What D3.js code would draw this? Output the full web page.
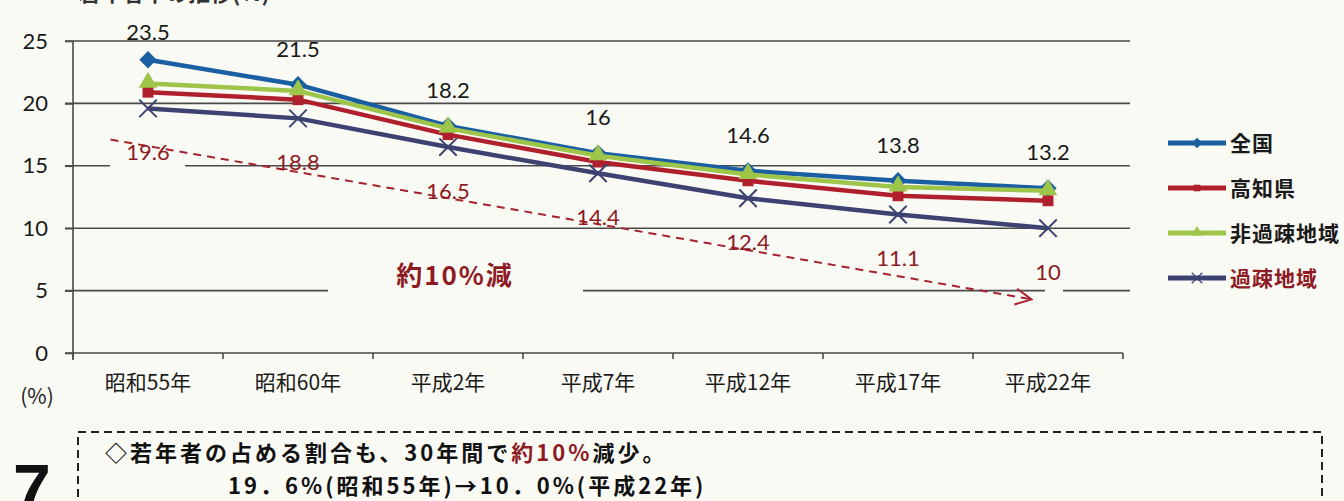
<!DOCTYPE html>
<html>
<head>
<meta charset="utf-8">
<script src="https://cdn.jsdelivr.net/npm/d3@7"></script>
<style>
body { margin: 0; background: #fafaf5; }
svg { display: block; }
</style>
</head>
<body>
<div id="chart"></div>
<script>

var categories = ["昭和55年", "昭和60年", "平成2年", "平成7年", "平成12年", "平成17年", "平成22年"];
var zenkoku = [23.5, 21.5, 18.2, 16, 14.6, 13.8, 13.2];
var kochi = [20.9, 20.3, 17.5, 15.3, 13.8, 12.6, 12.2];
var hikaso = [21.6, 21.0, 18.0, 15.8, 14.3, 13.3, 13.0];
var kaso = [19.6, 18.8, 16.5, 14.4, 12.4, 11.1, 10];
var seriesNames = ["全国", "高知県", "非過疎地域", "過疎地域"];
var yTicks = [0, 5, 10, 15, 20, 25];

var W = 1344, H = 501;
var bg = "#fafaf5";
var darkRed = "#8e1b24";
var jp = "'Noto Sans CJK JP', sans-serif";
var num = "Lato, 'Noto Sans CJK JP', sans-serif";

var series = [
  {name: seriesNames[0], values: zenkoku, color: "#1b5fa3", shape: "diamond"},
  {name: seriesNames[1], values: kochi, color: "#b0202c", shape: "square"},
  {name: seriesNames[2], values: hikaso, color: "#9dc54a", shape: "triangle"},
  {name: seriesNames[3], values: kaso, color: "#3d4270", shape: "x"}
]

var svg = d3.select("#chart").append("svg")
.attr("width", W)
.attr("height", H)

svg.append("rect").attr("width", W).attr("height", H).attr("fill", bg)

var x = d3.scaleBand().domain(categories).range([73, 1123])
var y = d3.scaleLinear().domain([0, 25]).range([353, 41])
var cx = function(i){ return x(categories[i]) + x.bandwidth() / 2 }

// cut off heading at the top
svg.append("text")
.attr("x", 78).attr("y", 1)
.style("font-family", jp).style("font-size", "22px").style("font-weight", "bold")
.attr("fill", "#333")
.text("若年者率の推移(%)")

// gridlines
svg.append("g").selectAll("line")
.data(yTicks.slice(1))
.enter().append("line")
.attr("x1", 65).attr("x2", 1130)
.attr("y1", function(d){ return y(d) }).attr("y2", function(d){ return y(d) })
.attr("stroke", "#4a4a4a").attr("stroke-width", 1.6)

// gaps behind annotations
var gaps = [[110, 185, 15], [328, 583, 5], [1045, 1063, 5]]
svg.append("g").selectAll("rect")
.data(gaps).enter().append("rect")
.attr("x", function(d){ return d[0] }).attr("width", function(d){ return d[1] - d[0] })
.attr("y", function(d){ return y(d[2]) - 3 }).attr("height", 6)
.attr("fill", bg)

// y axis
var yAxis = d3.axisLeft(y).tickValues(yTicks).tickSize(8).tickPadding(17)
var gy = svg.append("g").attr("transform", "translate(73,0)").call(yAxis)
gy.select(".domain").attr("d", "M0," + y(25) + "V360").attr("stroke", "#4a4a4a").attr("stroke-width", 1.6)
gy.selectAll(".tick line").attr("stroke", "#4a4a4a").attr("stroke-width", 1.6)
gy.selectAll("text").style("font-family", num).style("font-size", "22px").attr("fill", "#1a1a1a")

// x axis
var xAxis = d3.axisBottom(x).tickSize(0).tickPadding(22)
var gx = svg.append("g").attr("transform", "translate(0," + y(0) + ")").call(xAxis)
gx.select(".domain").attr("d", "M65,0H1123").attr("stroke", "#4a4a4a").attr("stroke-width", 1.6)
gx.selectAll("text").style("font-family", jp).style("font-size", "21px").attr("fill", "#1a1a1a")
gx.selectAll(".edge").data(d3.range(categories.length + 1)).enter().append("line")
.attr("class", "edge")
.attr("x1", function(d){ return 73 + d * x.bandwidth() }).attr("x2", function(d){ return 73 + d * x.bandwidth() })
.attr("y1", 0).attr("y2", 6)
.attr("stroke", "#4a4a4a").attr("stroke-width", 1.6)

svg.append("text").attr("x", 37).attr("y", 404).attr("text-anchor", "middle")
.style("font-family", jp).style("font-size", "21px").attr("fill", "#1a1a1a")
.text("(%)")

// annotation arrow (data coordinates: band index, value)
var arrowFrom = [-0.25, 17.1], arrowTo = [5.89, 4.3]
var ax = function(p){ return cx(0) + p * x.bandwidth() }
svg.append("defs").append("marker")
.attr("id", "head").attr("viewBox", "0 0 20 20").attr("refX", 18).attr("refY", 10)
.attr("markerWidth", 20).attr("markerHeight", 20).attr("markerUnits", "userSpaceOnUse")
.attr("orient", "auto")
.append("path").attr("d", "M2,2L18,10L2,18").attr("fill", "none")
.attr("stroke", "#a6222e").attr("stroke-width", 2)

svg.append("line")
.attr("x1", ax(arrowFrom[0])).attr("y1", y(arrowFrom[1]))
.attr("x2", ax(arrowTo[0])).attr("y2", y(arrowTo[1]))
.attr("stroke", "#a6222e").attr("stroke-width", 2).attr("stroke-dasharray", "8,6")
.attr("marker-end", "url(#head)")

svg.append("text").attr("x", 455).attr("y", 285).attr("text-anchor", "middle")
.style("font-family", jp).style("font-size", "26px").style("font-weight", "bold")
.style("letter-spacing", "2px")
.attr("fill", darkRed).text("約10%減")

// lines and markers
var line = d3.line().x(function(d, i){ return cx(i) }).y(function(d){ return y(d) })

function marker(g, shape, color){
  if(shape == "diamond"){
    g.append("path").attr("d", d3.symbol(d3.symbolSquare, 150)()).attr("transform", "rotate(45)").attr("fill", color)
  } else if(shape == "square"){
    g.append("path").attr("d", d3.symbol(d3.symbolSquare, 120)()).attr("fill", color)
  } else if(shape == "triangle"){
    g.append("path").attr("d", d3.symbol(d3.symbolTriangle, 150)()).attr("transform", "translate(0,-1)").attr("fill", color)
  } else {
    g.append("path").attr("d", d3.symbol(d3.symbolX, 200)()).attr("fill", "none").attr("stroke", color).attr("stroke-width", 2)
  }
}

series.forEach(function(s){
  var g = svg.append("g")
  g.append("path").datum(s.values).attr("d", line)
  .attr("fill", "none").attr("stroke", s.color).attr("stroke-width", 4.5).attr("stroke-linejoin", "round")
  s.values.forEach(function(v, i){
    var m = g.append("g").attr("transform", "translate(" + cx(i) + "," + y(v) + ")")
    marker(m, s.shape, s.color)
  })
})

// data labels
svg.append("g").selectAll("text").data(zenkoku).enter().append("text")
.attr("x", function(d, i){ return cx(i) })
.attr("y", function(d){ return Math.max(y(d) - 28, 40) })
.attr("text-anchor", "middle")
.style("font-family", num).style("font-size", "22px").attr("fill", "#1a1a1a")
.text(function(d){ return d })

svg.append("g").selectAll("text").data(kaso).enter().append("text")
.attr("x", function(d, i){ return cx(i) })
.attr("y", function(d){ return y(d) + 52 })
.attr("text-anchor", "middle")
.style("font-family", num).style("font-size", "22px").attr("fill", darkRed)
.text(function(d){ return d })

// legend
var leg = svg.append("g").selectAll("g").data(series).enter().append("g")
.attr("transform", function(d, i){ return "translate(1168," + (143 + i * 45) + ")" })
leg.append("line").attr("x1", 0).attr("x2", 58)
.attr("stroke", function(d){ return d.color }).attr("stroke-width", 5)
leg.each(function(d){
  var m = d3.select(this).append("g").attr("transform", "translate(29,0) scale(0.6)")
  marker(m, d.shape, d.color)
})
leg.append("text").attr("x", 62).attr("y", 8)
.style("font-family", jp).style("font-size", "21px").style("font-weight", "bold")
.style("letter-spacing", "1px")
.attr("fill", function(d, i){ return i == 3 ? darkRed : "#1a1a1a" })
.text(function(d){ return d.name })

// bottom note box
svg.append("path").attr("d", "M78,510V432H1322V510")
.attr("fill", "none").attr("stroke", "#222").attr("stroke-width", 2).attr("stroke-dasharray", "8,5")

svg.append("text").attr("x", 13).attr("y", 512)
.style("font-family", "'Liberation Sans', sans-serif").style("font-size", "68px").style("font-weight", "bold")
.attr("fill", "#111").text("7")

// first note line, in three pieces placed one after another
var noteParts = [["◇若年者の占める割合も、30年間で", "#111"], ["約10%", darkRed], ["減少。", "#111"]]
var nx = 105
noteParts.forEach(function(p){
  var t = svg.append("text").attr("x", nx).attr("y", 461)
  .style("font-family", jp).style("font-size", "22px").style("font-weight", "bold")
  .style("letter-spacing", "3px").attr("fill", p[1])
  .text(p[0])
  nx += t.node().getComputedTextLength()
})

svg.append("text").attr("x", 228).attr("y", 494)
.style("font-family", jp).style("font-size", "22px").style("font-weight", "bold")
.style("letter-spacing", "3px").attr("fill", "#111")
.text("19．6%(昭和55年)→10．0%(平成22年)")

</script>
</body>
</html>
